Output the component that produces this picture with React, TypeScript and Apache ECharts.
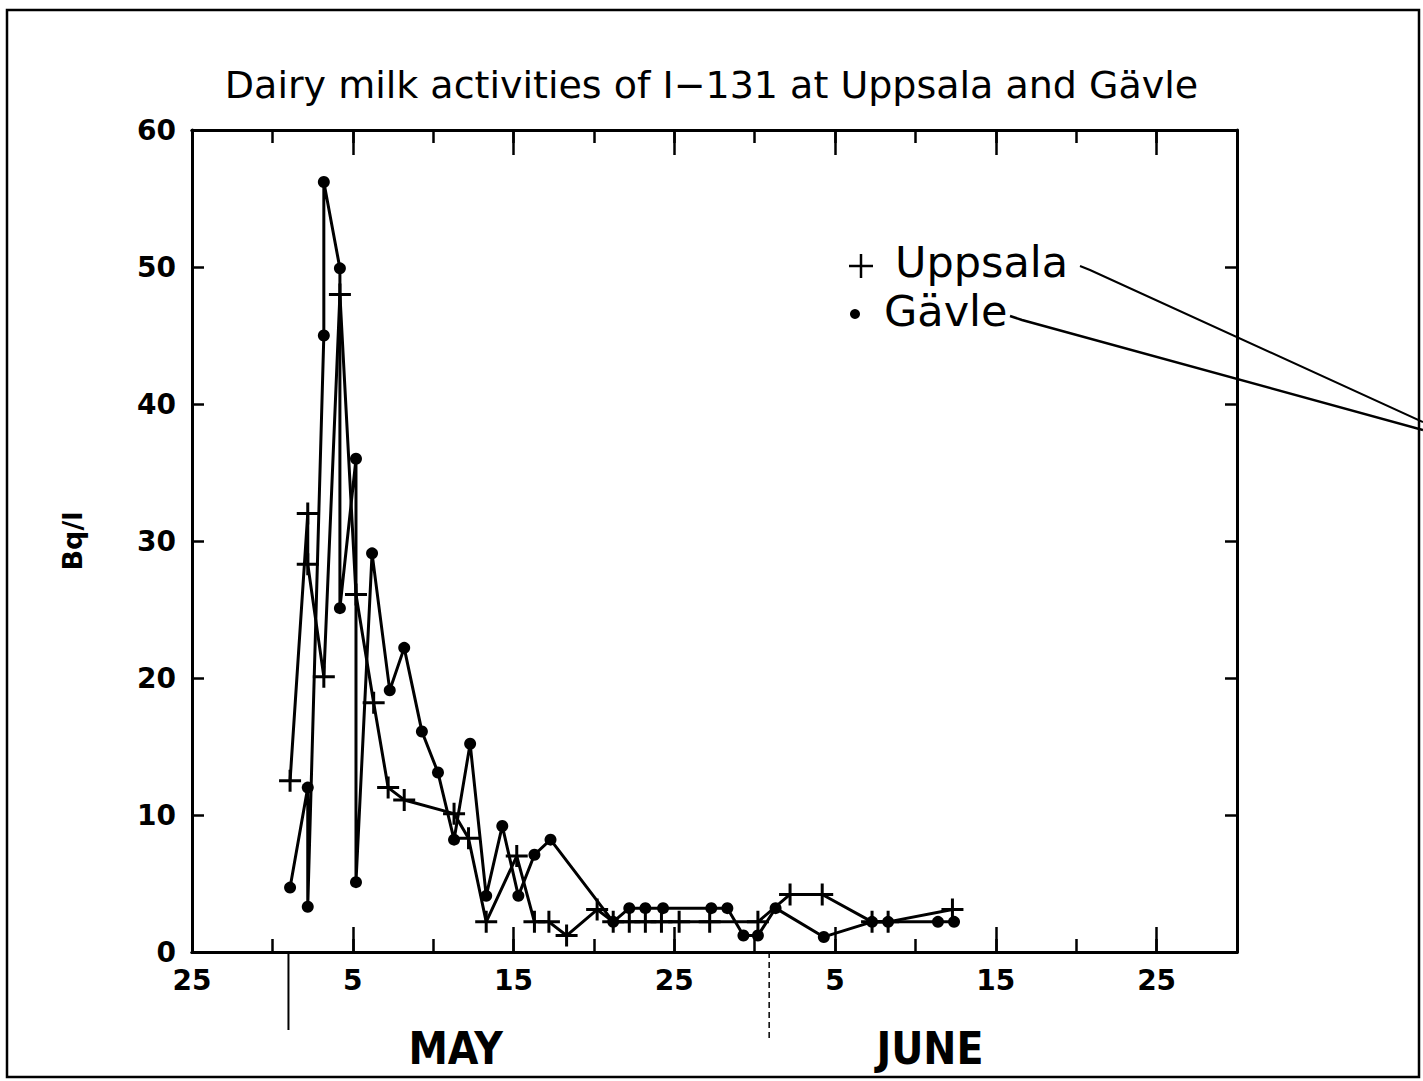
import React, { useEffect, useRef } from "react";
import * as echarts from "echarts";

// x values: days counted from 25 April (0 = Apr 25)
const tickDays = [0, 10, 20, 30, 40, 50, 60];
const tickLabels = ["25", "5", "15", "25", "5", "15", "25"];

const uppsalaDay = [6.1, 7.2, 7.2, 8.2, 9.2, 10.2, 11.3, 12.2, 13.2, 16.3, 17.2, 18.3, 20.2, 21.3, 22.2, 23.3, 25.2, 26.2, 27.2, 28.2, 29.2, 30.3, 32.2, 35.2, 37.2, 39.2, 42.3, 43.3, 47.3];
const uppsalaBq = [12.5, 32, 28.3, 20.1, 48, 26.1, 18.2, 12.0, 11.1, 10.1, 8.3, 2.2, 7.0, 2.2, 2.2, 1.2, 3.1, 2.2, 2.2, 2.2, 2.2, 2.2, 2.2, 2.2, 4.2, 4.2, 2.2, 2.2, 3.1];

const gavleDay = [6.1, 7.2, 7.2, 8.2, 8.2, 9.2, 9.2, 10.2, 10.2, 11.2, 12.3, 13.2, 14.3, 15.3, 16.3, 17.3, 18.3, 19.3, 20.3, 21.3, 22.3, 26.2, 27.2, 28.2, 29.3, 32.3, 33.3, 34.3, 35.2, 36.3, 39.3, 42.3, 43.3, 46.4, 47.4];
const gavleBq = [4.7, 12.0, 3.3, 45.0, 56.2, 49.9, 25.1, 36.0, 5.1, 29.1, 19.1, 22.2, 16.1, 13.1, 8.2, 15.2, 4.1, 9.2, 4.1, 7.1, 8.2, 2.2, 3.2, 3.2, 3.2, 3.2, 3.2, 1.2, 1.2, 3.2, 1.1, 2.2, 2.2, 2.2, 2.2];

const monthStartDays = [6, 35.9]; // May 1, June 1 markers
const monthNames = ["MAY", "JUNE"];

const PLUS = "path://M10,0 L10,20 M0,10 L20,10";
const FONT = "DejaVu Sans";
const COND = "DejaVu Sans Condensed, DejaVu Sans";

export default function App() {
  const ref = useRef<HTMLDivElement>(null);
  useEffect(() => {
    if (!ref.current) return;
    const chart = echarts.init(ref.current, null, { renderer: "svg" });
    const labelFor = (v: number) => {
      const i = tickDays.indexOf(Math.round(v));
      return i >= 0 && Math.abs(v - tickDays[i]) < 1e-6 ? tickLabels[i] : "";
    };
    const axisLine = { show: true, onZero: false, lineStyle: { color: "#000", width: 3 } };
    const baseX = {
      type: "value",
      min: 0,
      max: 65,
      splitLine: { show: false },
      axisLine,
    };
    chart.setOption({
      animation: false,
      backgroundColor: "#fff",
      title: {
        text: "Dairy milk activities of I\u2212131 at Uppsala and G\u00e4vle",
        left: "center",
        top: 61,
        textStyle: { fontFamily: FONT, fontWeight: "normal", fontSize: 38, color: "#000" },
      },
      grid: { left: 192, right: 186, top: 130, bottom: 129 },
      xAxis: [
        {
          ...baseX,
          position: "bottom",
          interval: 10,
          axisTick: { show: true, inside: true, length: 25, lineStyle: { color: "#000", width: 2.5 } },
          axisLabel: {
            formatter: labelFor,
            margin: 14,
            fontSize: 28,
            fontWeight: "bold",
            fontFamily: FONT,
            color: "#000",
          },
        },
        {
          ...baseX,
          position: "bottom",
          interval: 5,
          axisTick: { show: true, inside: true, length: 13, lineStyle: { color: "#000", width: 2.5 } },
          axisLabel: { show: false },
        },
        {
          ...baseX,
          position: "top",
          interval: 10,
          axisTick: { show: true, inside: true, length: 25, lineStyle: { color: "#000", width: 2.5 } },
          axisLabel: { show: false },
        },
        {
          ...baseX,
          position: "top",
          interval: 5,
          axisTick: { show: true, inside: true, length: 13, lineStyle: { color: "#000", width: 2.5 } },
          axisLabel: { show: false },
        },
      ],
      yAxis: [
        {
          type: "value",
          min: 0,
          max: 60,
          interval: 10,
          position: "left",
          splitLine: { show: false },
          axisLine,
          axisTick: { show: true, inside: true, length: 12, lineStyle: { color: "#000", width: 2.5 } },
          axisLabel: { margin: 16, fontSize: 28, fontWeight: "bold", fontFamily: FONT, color: "#000" },
          name: "Bq/l",
          nameLocation: "middle",
          nameGap: 106,
          nameRotate: 90,
          nameTextStyle: { fontSize: 27, fontWeight: "bold", fontFamily: FONT, color: "#000" },
        },
        {
          type: "value",
          min: 0,
          max: 60,
          interval: 10,
          position: "right",
          splitLine: { show: false },
          axisLine,
          axisTick: { show: true, inside: true, length: 12, lineStyle: { color: "#000", width: 2.5 } },
          axisLabel: { show: false },
        },
      ],
      series: [
        {
          name: "Uppsala",
          type: "line",
          xAxisIndex: 0,
          yAxisIndex: 0,
          data: uppsalaDay.map((d, i) => [d, uppsalaBq[i]]),
          symbol: PLUS,
          symbolSize: 22,
          showAllSymbol: true,
          lineStyle: { color: "#000", width: 3 },
          itemStyle: { color: "#000", borderColor: "#000", borderWidth: 3 },
        },
        {
          name: "Gävle",
          type: "line",
          xAxisIndex: 0,
          yAxisIndex: 0,
          data: gavleDay.map((d, i) => [d, gavleBq[i]]),
          symbol: "circle",
          symbolSize: 12,
          showAllSymbol: true,
          lineStyle: { color: "#000", width: 3 },
          itemStyle: { color: "#000", borderWidth: 0 },
        },
      ],
    });

    const xPix = (v: number) => chart.convertToPixel({ xAxisIndex: 0 }, v) as number;
    const yAxisBottom = chart.convertToPixel({ yAxisIndex: 0 }, 0) as number;
    const mayX = xPix(monthStartDays[0]);
    const junX = xPix(monthStartDays[1]);
    const mayLabelX = xPix(16.4);
    const junLabelX = xPix(45.9);

    chart.setOption({
      graphic: [
        {
          type: "rect",
          shape: { x: 7, y: 10, width: 1412, height: 1067 },
          style: { fill: "none", stroke: "#000", lineWidth: 2.5 },
        },
        {
          type: "line",
          shape: { x1: mayX, y1: yAxisBottom, x2: mayX, y2: yAxisBottom + 78 },
          style: { stroke: "#000", lineWidth: 2 },
        },
        {
          type: "line",
          shape: { x1: junX, y1: yAxisBottom, x2: junX, y2: yAxisBottom + 86 },
          style: { stroke: "#000", lineWidth: 1.5, lineDash: [6, 4] },
        },
        {
          type: "text",
          x: mayLabelX,
          y: 1048,
          style: {
            text: monthNames[0],
            fontSize: 44,
            fontWeight: "bold",
            fontFamily: COND,
            fill: "#000",
            textAlign: "center",
            textVerticalAlign: "middle",
          },
        },
        {
          type: "text",
          x: junLabelX,
          y: 1048,
          style: {
            text: monthNames[1],
            fontSize: 44,
            fontWeight: "bold",
            fontFamily: COND,
            fill: "#000",
            textAlign: "center",
            textVerticalAlign: "middle",
          },
        },
        // legend
        {
          type: "line",
          shape: { x1: 849, y1: 266, x2: 873, y2: 266 },
          style: { stroke: "#000", lineWidth: 2.5 },
        },
        {
          type: "line",
          shape: { x1: 861, y1: 254, x2: 861, y2: 278 },
          style: { stroke: "#000", lineWidth: 2.5 },
        },
        {
          type: "text",
          x: 895,
          y: 262,
          style: {
            text: "Uppsala",
            fontSize: 43,
            lineHeight: 44,
            fontFamily: FONT,
            fill: "#000",
            textVerticalAlign: "middle",
          },
        },
        { type: "circle", shape: { cx: 855, cy: 314, r: 5 }, style: { fill: "#000" } },
        {
          type: "text",
          x: 884,
          y: 311,
          style: {
            text: "G\u00e4vle",
            fontSize: 43,
            lineHeight: 44,
            fontFamily: FONT,
            fill: "#000",
            textVerticalAlign: "middle",
          },
        },
        {
          type: "polyline",
          shape: { points: [[1080, 266], [1090, 270], [1423, 422]] },
          style: { stroke: "#000", lineWidth: 2, fill: "none" },
        },
        {
          type: "polyline",
          shape: { points: [[1010, 316], [1022, 320], [1423, 430]] },
          style: { stroke: "#000", lineWidth: 2.5, fill: "none" },
        },
      ],
    });
    return () => chart.dispose();
  }, []);
  return (
    <div
      ref={ref}
      style={{ position: "fixed", left: 0, top: 0, width: 1423, height: 1081, background: "#fff" }}
    />
  );
}
